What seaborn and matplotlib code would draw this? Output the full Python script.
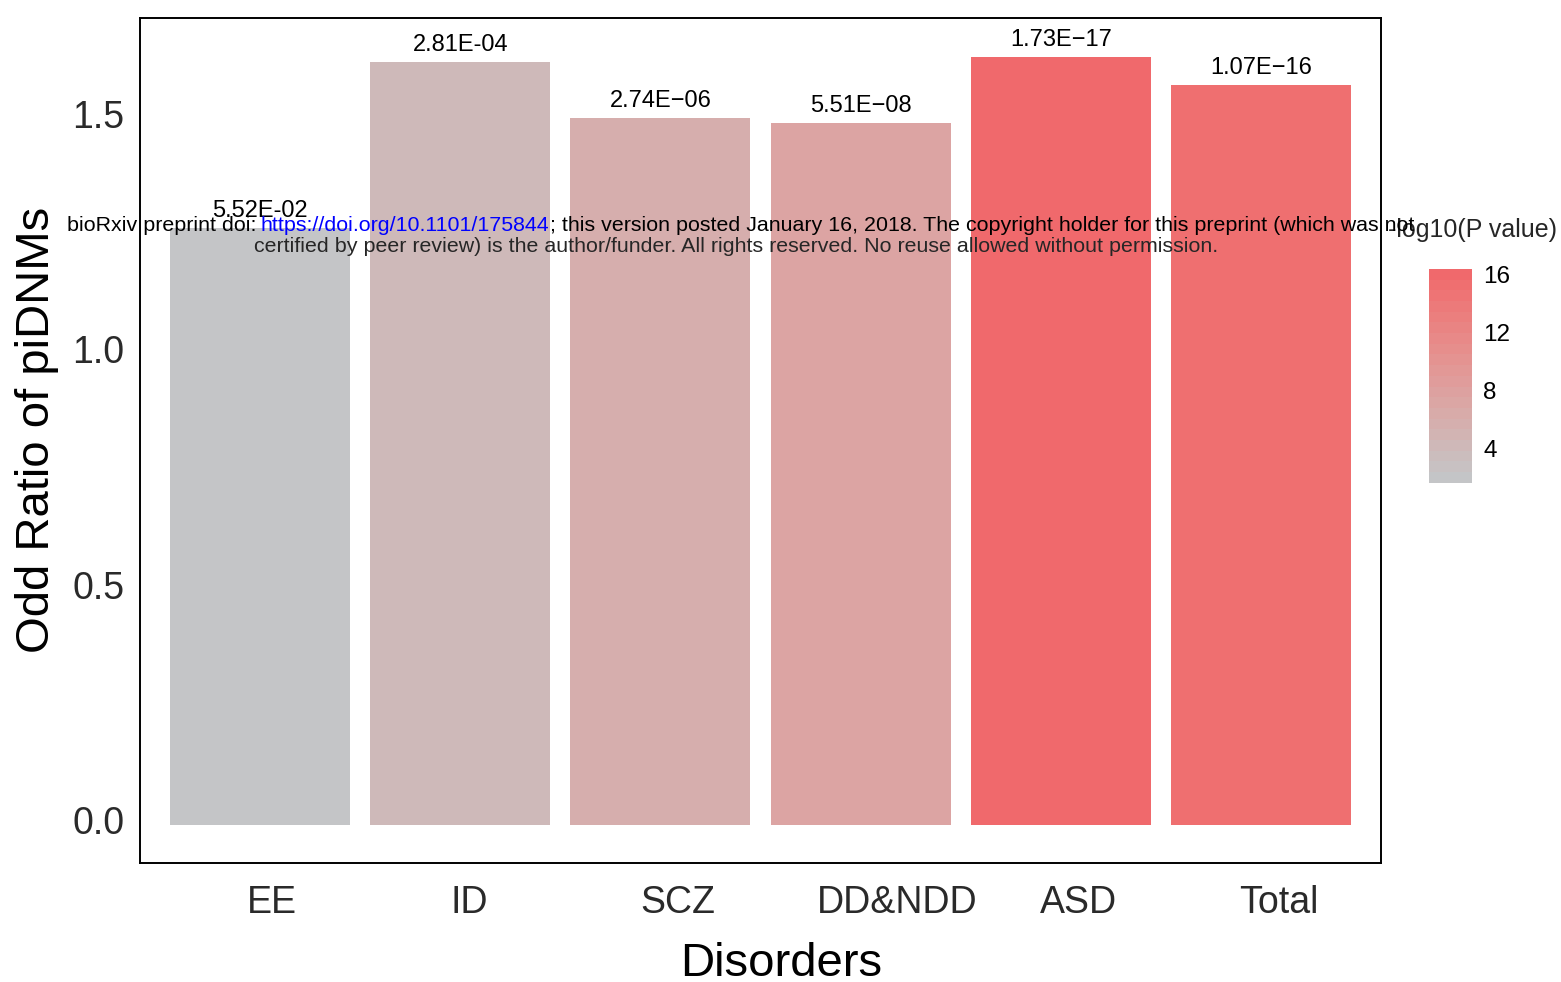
import numpy as np
import pandas as pd
import matplotlib
matplotlib.use("Agg")
import matplotlib.pyplot as plt
import seaborn as sns
from matplotlib.colors import ListedColormap, Normalize, to_rgb
from matplotlib.transforms import ScaledTranslation

# ---------------- data ----------------
disorders = ["EE", "ID", "SCZ", "DD&NDD", "ASD", "Total"]
odds_ratio = [1.269, 1.622, 1.503, 1.492, 1.632, 1.573]
p_values = [5.52e-2, 2.81e-4, 2.74e-6, 5.51e-8, 1.73e-17, 1.07e-16]
p_labels = ["5.52E-02", "2.81E-04", "2.74E\u221206", "5.51E\u221208", "1.73E\u221217", "1.07E\u221216"]
y_ticks = [0.0, 0.5, 1.0, 1.5]
y_ticklabels = ["0.0", "0.5", "1.0", "1.5"]
cbar_ticks = [4, 8, 12, 16]

sns.set_style("white")
plt.rcParams["font.family"] = ["Liberation Sans", "DejaVu Sans"]

# ---- Lab-space gradient (like ggplot's scale_fill_gradient) ----
M = np.array([[0.4124, 0.3576, 0.1805], [0.2126, 0.7152, 0.0722], [0.0193, 0.1192, 0.9505]])
Minv = np.linalg.inv(M)
WP = np.array([0.95047, 1.0, 1.08883])


def to_lab(rgb):
    c = np.array(rgb)
    lin = np.where(c <= 0.04045, c / 12.92, ((c + 0.055) / 1.055) ** 2.4)
    xyz = M @ lin / WP
    f = np.where(xyz > (6 / 29) ** 3, np.cbrt(xyz), xyz / (3 * (6 / 29) ** 2) + 4 / 29)
    return np.array([116 * f[1] - 16, 500 * (f[0] - f[1]), 200 * (f[1] - f[2])])


def from_lab(lab):
    L, a, b = lab
    fy = (L + 16) / 116
    fx = fy + a / 500
    fz = fy - b / 200
    f = np.array([fx, fy, fz])
    xyz = np.where(f > 6 / 29, f ** 3, 3 * (6 / 29) ** 2 * (f - 4 / 29)) * WP
    lin = Minv @ xyz
    lin = np.clip(lin, 0, 1)
    c = np.where(lin <= 0.0031308, 12.92 * lin, 1.055 * lin ** (1 / 2.4) - 0.055)
    return np.clip(c, 0, 1)


lo, hi = to_lab(to_rgb("#C4C5C7")), to_lab(to_rgb("#F0696C"))
cmap = ListedColormap([from_lab(lo + t * (hi - lo)) for t in np.linspace(0, 1, 256)])

neglog = -np.log10(np.array(p_values))
norm = Normalize(neglog.min(), neglog.max())
colors = [cmap(norm(v)) for v in neglog]

W, H = 1561, 982
fig = plt.figure(figsize=(W / 100, H / 100), dpi=100)
ax = fig.add_axes([140 / W, 119 / H, 1241 / W, 845 / H])

df = pd.DataFrame({"Disorders": disorders, "OR": odds_ratio})
sns.barplot(data=df, x="Disorders", y="OR", hue="Disorders", palette=colors,
            legend=False, width=0.9, saturation=1, ax=ax, linewidth=0)

ax.set_xlim(-0.6, 5.6)
ax.set_ylim(-0.0808, 1.715)
ax.set_yticks(y_ticks)
ax.set_yticklabels(y_ticklabels)
for s in ax.spines.values():
    s.set_visible(True)
    s.set_color("black")
    s.set_linewidth(1.4)
ax.tick_params(axis="both", which="major", direction="out", length=5, width=1.2,
               color="#333333", labelcolor="#2a2a2a")
ax.tick_params(axis="x", labelsize=27, pad=11)
ax.tick_params(axis="y", labelsize=27, pad=6)
ax.grid(False)
for lab in ax.get_yticklabels():
    lab.set_transform(lab.get_transform() + ScaledTranslation(0, 5 / 100, fig.dpi_scale_trans))

ax.set_xlabel("Disorders", fontsize=34, color="black")
ax.set_ylabel("Odd Ratio of piDNMs", fontsize=34, color="black")
ax.xaxis.set_label_coords(0.517, -0.094)
ax.yaxis.set_label_coords(-0.0655, 0.512)

for i, (v, lab) in enumerate(zip(odds_ratio, p_labels)):
    ax.annotate(lab, (i, v), xytext=(0, 8), textcoords="offset points",
                ha="center", va="baseline", fontsize=17, color="black")

# colour bar legend
cax = fig.add_axes([1429 / W, (H - 482.7) / H, 43 / W, 213.7 / H])
vals = np.linspace(neglog.min(), neglog.max(), 20)
rng = neglog.max() - neglog.min()
bounds = np.linspace(neglog.min() + 0.025 * rng, neglog.max() - 0.025 * rng, 21)
sm = plt.cm.ScalarMappable(norm=norm, cmap=cmap)
cb = fig.colorbar(sm, cax=cax, boundaries=bounds, values=vals, ticks=cbar_ticks)
cb.outline.set_visible(False)
cax.tick_params(which="major", left=True, right=True, direction="in", color="white",
                length=6.2, width=1.0, labelcolor="black", labelsize=17.5, pad=8)
cax.minorticks_off()
fig.text(1388 / W, 1 - 237 / H, "-log10(P value)", fontsize=18, ha="left", va="baseline")

# x tick labels shifted (anchor at ~27% of label width)
fig.canvas.draw()
r = fig.canvas.get_renderer()
for lab in ax.get_xticklabels():
    w = lab.get_window_extent(r).width
    lab.set_transform(lab.get_transform() + ScaledTranslation(0.23 * w / 100, 0, fig.dpi_scale_trans))

# bioRxiv watermark
line2 = "certified by peer review) is the author/funder. All rights reserved. No reuse allowed without permission."
t2 = fig.text(736.5 / W, 1 - 252 / H, line2, fontsize=13, ha="center", va="baseline")
fig.canvas.draw()
w2 = t2.get_window_extent(r).width
fs = 13 * 963 / w2
t2.set_fontsize(fs)
parts = [("bioRxiv preprint doi: ", "black", 67), ("https://doi.org/10.1101/175844", "blue", 261),
         ("; this version posted January 16, 2018. The copyright holder for this preprint (which was not", "black", 550)]
for txt, col, x0 in parts:
    fig.text(x0 / W, 1 - 231 / H, txt, fontsize=fs, color=col, ha="left", va="baseline")

fig.savefig("out.png", dpi=100)
